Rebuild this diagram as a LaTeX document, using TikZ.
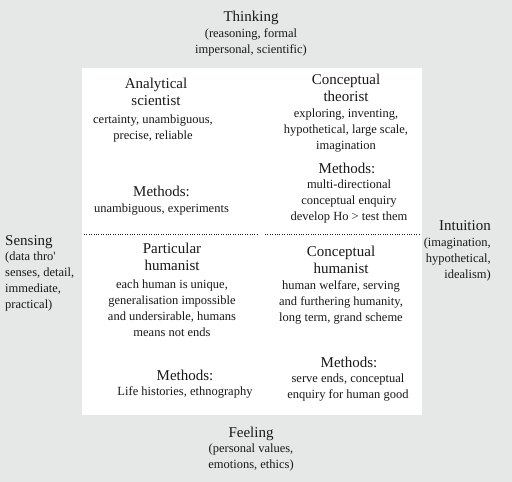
\documentclass[tikz,border=0pt]{standalone}
\usepackage{fontspec}
\setmainfont{Liberation Serif}
\usetikzlibrary{positioning}

\definecolor{bggray}{RGB}{230,232,232}
\definecolor{ink}{RGB}{25,25,25}

\tikzset{
  heading/.style={font=\fontsize{15}{17}\selectfont, align=center, inner sep=0pt, anchor=base, text=ink},
  note/.style={font=\fontsize{12.5}{16}\selectfont, align=center, inner sep=0pt, anchor=base, text=ink},
  divider/.style={line width=0.9pt, dash pattern=on 0.9pt off 1.5pt, ink},
}

\begin{document}
\begin{tikzpicture}[x=1pt, y=-1pt]

\fill[bggray] (0,0) rectangle (512,482);
\useasboundingbox (0,0) rectangle (512,482);
\fill[white] (82,68) rectangle (422,415);

% the four poles (base = last line)
\node[heading] (think) at (251,21) {Thinking};
\node[note] (thinkd) at (251,53) {(reasoning, formal\\impersonal, scientific)};

\node[heading] (feel) at (251,437) {Feeling};
\node[note] (feeld) at (251,468) {(personal values,\\emotions, ethics)};

\node[heading, anchor=base west] (sense) at (5,245) {Sensing};
\node[note, align=left, anchor=base west] (sensed) at (5,308) {(data thro\textquotesingle\\senses, detail,\\immediate,\\practical)};

\node[heading, anchor=base east] (intu) at (491,230) {Intuition};
\node[note, align=right, anchor=base east] (intud) at (491,278) {(imagination,\\hypothetical,\\idealism)};

% top left
\node[heading] (ana) at (156,105.7) {Analytical\\scientist};
\node[note] (anad) at (153,139) {certainty, unambiguous,\\precise, reliable};
\node[heading] (anam) at (161.5,196) {Methods:};
\node[note] (anamd) at (161.5,212) {unambiguous, experiments};

% top right
\node[heading] (theo) at (346,101) {Conceptual\\theorist};
\node[note] (theod) at (346,149) {exploring, inventing,\\hypothetical, large scale,\\imagination};
\node[heading] (theom) at (347,173) {Methods:};
\node[note] (theomd) at (349,220) {multi-directional\\conceptual enquiry\\develop Ho > test them};

% bottom left
\node[heading] (part) at (172,270) {Particular\\humanist};
\node[note] (partd) at (172,336) {each human is unique,\\generalisation impossible\\and undersirable, humans\\means not ends};
\node[heading] (partm) at (185,380) {Methods:};
\node[note] (partmd) at (185,395) {Life histories, ethnography};

% bottom right
\node[heading] (hum) at (341,273) {Conceptual\\humanist};
\node[note] (humd) at (341,321) {human welfare, serving\\and furthering humanity,\\long term, grand scheme};
\node[heading] (humm) at (349,367) {Methods:};
\node[note] (hummd) at (348,398) {serve ends, conceptual\\enquiry for human good};

% dotted split
\coordinate (cutL) at (84,234);
\coordinate (gapL) at (258,234);
\coordinate (gapR) at (265,234);
\coordinate (cutR) at (420,234);
\draw[divider] (cutL) -- (gapL);
\draw[divider] (gapR) -- (cutR);

\end{tikzpicture}
\end{document}
